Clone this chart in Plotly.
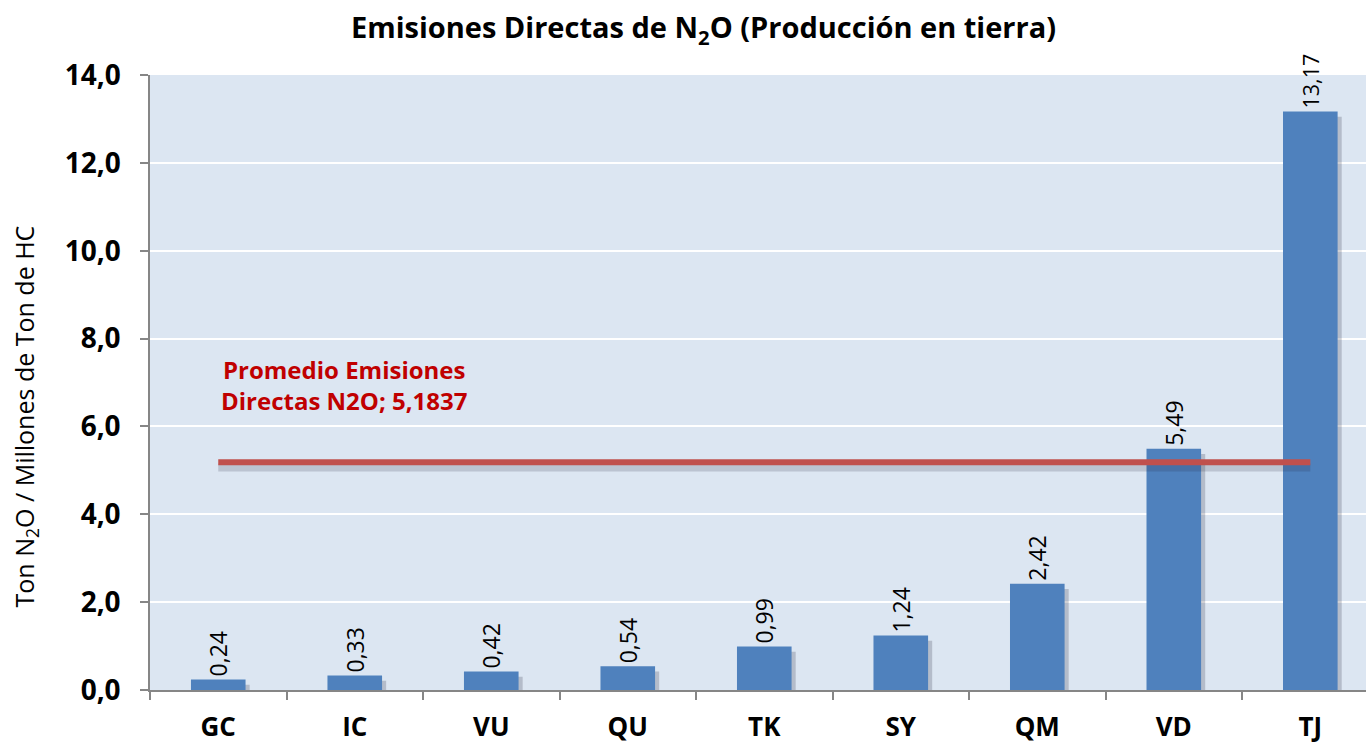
import plotly.graph_objects as go

# Emisiones directas de N2O por campo (Ton N2O / Millones de Ton de HC)
categorias = ["GC", "IC", "VU", "QU", "TK", "SY", "QM", "VD", "TJ"]
emisiones = [0.24, 0.33, 0.42, 0.54, 0.99, 1.24, 2.42, 5.49, 13.17]
promedio = 5.1837

FONT = "Open Sans"
AZUL = "#4F81BD"
ROJO = "#C0504D"

fig = go.Figure()

# sombra suave de las barras
fig.add_trace(go.Bar(
    x=categorias, y=emisiones, base=[-0.12] * len(emisiones),
    width=0.4, offset=-0.17,
    marker=dict(color="rgba(40,40,60,0.22)", line=dict(width=0)),
    hoverinfo="skip", showlegend=False,
))

# barras principales
fig.add_trace(go.Bar(
    x=categorias, y=emisiones, width=0.4, offset=-0.2,
    marker=dict(color=AZUL, line=dict(width=0)),
    texttemplate="%{y:.2f}", textposition="outside", textangle=-90,
    outsidetextfont=dict(family=FONT, size=23, color="#000000"),
    cliponaxis=False, showlegend=False,
))

# sombra de la línea de promedio
fig.add_trace(go.Scatter(
    x=categorias, y=[promedio - 0.12] * len(categorias),
    mode="lines", line=dict(color="rgba(40,40,60,0.18)", width=8),
    hoverinfo="skip", showlegend=False,
))

# línea de promedio
fig.add_trace(go.Scatter(
    x=categorias, y=[promedio] * len(categorias),
    mode="lines", line=dict(color=ROJO, width=6),
    showlegend=False,
))

fig.add_annotation(
    x=0.92, y=6.94, xref="x", yref="y",
    text="Promedio Emisiones<br>Directas N2O; 5,1837",
    showarrow=False, align="center",
    font=dict(family=FONT, size=24, color="#C00000", weight="bold"),
)

# título del eje Y
fig.add_annotation(
    x=-0.1027, y=0.445, xref="paper", yref="paper",
    xanchor="center", yanchor="middle", textangle=-90,
    text="Ton N<sub>2</sub>O / Millones de Ton de HC",
    showarrow=False,
    font=dict(family=FONT, size=25, color="#000000"),
)

fig.update_layout(
    width=1366, height=745,
    margin=dict(l=150, r=0, t=75, b=55),
    paper_bgcolor="white", plot_bgcolor="#DCE6F2",
    separators=",.",
    barmode="overlay",
    title=dict(
        text="Emisiones Directas de N<sub>2</sub>O (Producción en tierra)",
        x=0.515, xanchor="center", y=0.962, yanchor="middle",
        font=dict(family=FONT, size=29, color="#000000", weight="bold"),
    ),
    xaxis=dict(
        type="category", range=[-0.5, 8.408], automargin=False,
        showline=True, linecolor="#868686", linewidth=1.5,
        ticks="outside", tickson="boundaries", ticklen=8,
        tickcolor="#868686", tickwidth=1.5,
        ticklabelstandoff=13,
        tickfont=dict(family=FONT, size=26, color="#000000", weight="bold"),
        showgrid=False,
    ),
    yaxis=dict(
        range=[0, 14], dtick=2, tickformat=".1f", automargin=False,
        showline=True, linecolor="#868686", linewidth=1.5,
        ticks="outside", ticklen=8, tickcolor="#868686", tickwidth=1.5,
        ticklabelstandoff=14,
        gridcolor="#FFFFFF", gridwidth=1.5,
        tickfont=dict(family=FONT, size=28, color="#000000", weight="bold"),
        zeroline=False,
    ),
)

fig.write_html("out.html")
